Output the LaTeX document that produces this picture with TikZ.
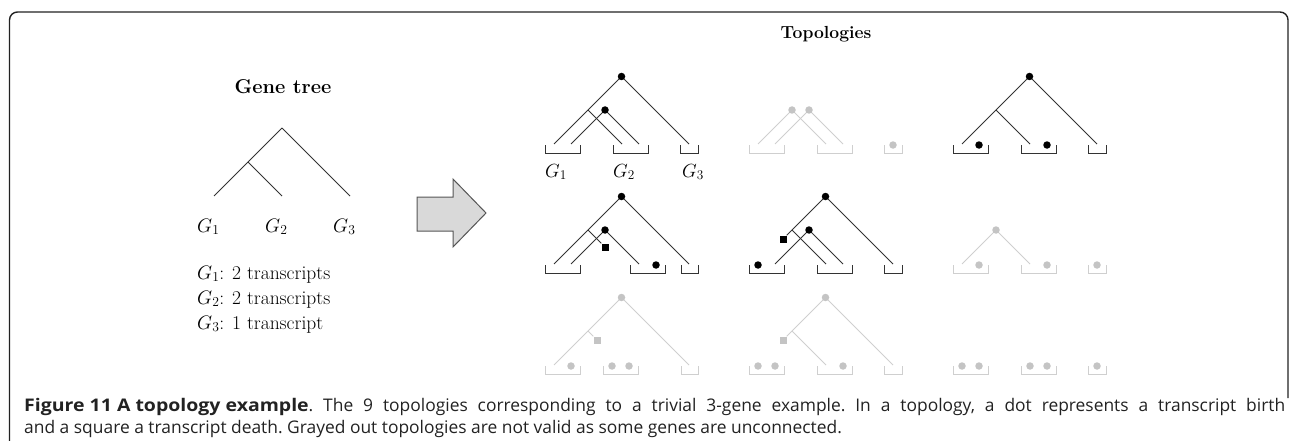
\RequirePackage{fix-cm}
\documentclass[tikz,border=0pt]{standalone}
\usepackage{fontspec}
\newfontfamily\capfont{Open Sans}
\definecolor{lc}{HTML}{333333}
\definecolor{gc}{HTML}{CFCFCF}
\definecolor{gd}{HTML}{C4C4C4}
\definecolor{framec}{HTML}{222222}
\definecolor{arrfill}{HTML}{D9D9D9}
\definecolor{arrdraw}{HTML}{555555}
\newcommand\bk[2]{\draw[brk] (#1,-8) -- (#1,0) -- (#2,0) -- (#2,-8);}
\newcommand\blackset{\colorlet{tcol}{lc}\colorlet{bcol}{lc}\colorlet{dcol}{black}}
\newcommand\grayset{\colorlet{tcol}{gc}\colorlet{bcol}{gc}\colorlet{dcol}{gd}}
\begin{document}
\begin{tikzpicture}[x=1pt,y=-1pt,
  edge/.style={draw=tcol, line width=0.9pt},
  brk/.style={draw=bcol, line width=0.9pt},
  dotn/.style={circle, fill=dcol, inner sep=0pt, minimum size=7.5pt},
  sqn/.style={rectangle, fill=dcol, inner sep=0pt, minimum size=7pt},
  gl/.style={anchor=base west, inner sep=0pt, font=\fontsize{19}{23}\selectfont},
  tx/.style={anchor=base west, inner sep=0pt, font=\fontsize{19.5}{25}\selectfont},
  capt/.style={anchor=base west, inner sep=0pt, text=framec, font=\capfont\fontsize{17.4}{22}\selectfont\frenchspacing}]
\useasboundingbox (0,0) rectangle (1292,441);
% frame
\draw[framec, line width=1.4pt, rounded corners=8pt] (9.5,441) -- (9.5,12) -- (1288,12) -- (1288,398);
% gene tree
\node[anchor=base, inner sep=0pt, font=\bfseries\fontsize{20}{24}\selectfont] (gtitle) at (283,94) {Gene tree};
\coordinate (gr) at (282,128);
\coordinate (gi) at (248,162);
\coordinate (g1) at (214,196);
\coordinate (g2) at (282,196);
\coordinate (g3) at (350,196);
\draw[draw=lc, line width=0.9pt] (gr) -- (g1);
\draw[draw=lc, line width=0.9pt] (gi) -- (g2);
\draw[draw=lc, line width=0.9pt] (gr) -- (g3);
\node[tx] (gl1) at (197,232) {$G_1$};
\node[tx] (gl2) at (265,232) {$G_2$};
\node[tx] (gl3) at (333,232) {$G_3$};
\node[tx] (tl1) at (197,279) {$G_1$: 2 transcripts};
\node[tx] (tl2) at (197,304) {$G_2$: 2 transcripts};
\node[tx] (tl3) at (197,329) {$G_3$: 1 transcript};
% arrow
\draw[fill=arrfill, draw=arrdraw, line width=1pt, line join=miter] (417,197) -- (453,197) -- (453,179) -- (486,213) -- (453,247) -- (453,231) -- (417,231) -- cycle;
% topologies title
\node[anchor=base, inner sep=0pt, font=\bfseries\fontsize{17.5}{20}\selectfont] (ttitle) at (826,39) {Topologies};
% ---------- T11
\begin{scope}[shift={(545,153)}]
\blackset
\bk{0}{35}\bk{68}{103}\bk{135}{153}
\coordinate (t11a1) at (9,-9);\coordinate (t11a2) at (26,-9);
\coordinate (t11b1) at (77,-9);\coordinate (t11b2) at (94,-9);
\coordinate (t11c) at (144,-9);
\coordinate (t11I) at (43,-43);
\draw[edge] (76.5,-76.5) coordinate (t11R0) -- (t11a1);
\draw[edge] (t11R0) -- (t11c);
\draw[edge] (t11I) -- (t11b1);
\draw[edge] (60,-43) coordinate (t11J0) -- (t11a2);
\draw[edge] (t11J0) -- (t11b2);
\node[dotn] (t11R) at (t11R0) {};
\node[dotn] (t11J) at (t11J0) {};
\end{scope}
\node[gl] (lg1) at (545,177) {$G_1$};
\node[gl] (lg2) at (613,177) {$G_2$};
\node[gl] (lg3) at (682,177) {$G_3$};
% ---------- T12
\begin{scope}[shift={(749,153)}]
\grayset
\bk{0}{35}\bk{68}{103}\bk{135}{153}
\coordinate (t12a1) at (9,-9);\coordinate (t12a2) at (26,-9);
\coordinate (t12b1) at (77,-9);\coordinate (t12b2) at (94,-9);
\coordinate (t12I0) at (43,-43);\coordinate (t12J0) at (60,-43);
\draw[edge] (t12I0) -- (t12a1);
\draw[edge] (t12I0) -- (t12b1);
\draw[edge] (t12J0) -- (t12a2);
\draw[edge] (t12J0) -- (t12b2);
\node[dotn] (t12I) at (t12I0) {};
\node[dotn] (t12J) at (t12J0) {};
\node[dotn] (t12lc) at (144,-8) {};
\end{scope}
% ---------- T13
\begin{scope}[shift={(953,153)}]
\blackset
\bk{0}{35}\bk{68}{103}\bk{135}{153}
\coordinate (t13a1) at (9,-9);\coordinate (t13b1) at (77,-9);\coordinate (t13c) at (144,-9);
\coordinate (t13I) at (43,-43);\coordinate (t13R0) at (76.5,-76.5);
\draw[edge] (t13R0) -- (t13a1);
\draw[edge] (t13R0) -- (t13c);
\draw[edge] (t13I) -- (t13b1);
\node[dotn] (t13R) at (t13R0) {};
\node[dotn] (t13la) at (26,-8) {};
\node[dotn] (t13lb) at (94,-8) {};
\end{scope}
% ---------- T21
\begin{scope}[shift={(545,273)}]
\blackset
\bk{0}{35}\bk{85}{120}\bk{136}{153}
\coordinate (t21a1) at (9,-9);\coordinate (t21a2) at (26,-9);
\coordinate (t21b1) at (94,-9);\coordinate (t21c) at (144,-9);
\coordinate (t21I) at (43,-43);\coordinate (t21R0) at (76.5,-76.5);\coordinate (t21J0) at (60,-43);
\node[sqn] (t21S) at (60,-26) {};
\draw[edge] (t21R0) -- (t21a1);
\draw[edge] (t21R0) -- (t21c);
\draw[edge] (t21I) -- (t21S);
\draw[edge] (t21J0) -- (t21a2);
\draw[edge] (t21J0) -- (t21b1);
\node[dotn] (t21R) at (t21R0) {};
\node[dotn] (t21J) at (t21J0) {};
\node[dotn] (t21lb) at (111,-8) {};
\end{scope}
% ---------- T22
\begin{scope}[shift={(749,273)}]
\blackset
\bk{0}{35}\bk{68}{103}\bk{135}{153}
\coordinate (t22a2) at (26,-9);\coordinate (t22b1) at (77,-9);
\coordinate (t22b2) at (94,-9);\coordinate (t22c) at (144,-9);
\coordinate (t22I) at (43,-43);\coordinate (t22R0) at (76.5,-76.5);\coordinate (t22J0) at (60,-43);
\node[sqn] (t22S) at (34,-34) {};
\draw[edge] (t22R0) -- (t22S);
\draw[edge] (t22R0) -- (t22c);
\draw[edge] (t22I) -- (t22b1);
\draw[edge] (t22J0) -- (t22a2);
\draw[edge] (t22J0) -- (t22b2);
\node[dotn] (t22R) at (t22R0) {};
\node[dotn] (t22J) at (t22J0) {};
\node[dotn] (t22la) at (9,-8) {};
\end{scope}
% ---------- T23
\begin{scope}[shift={(953,273)}]
\grayset
\bk{0}{35}\bk{68}{103}\bk{135}{153}
\coordinate (t23a1) at (9,-9);\coordinate (t23b1) at (77,-9);
\coordinate (t23I0) at (43,-43);
\draw[edge] (t23I0) -- (t23a1);
\draw[edge] (t23I0) -- (t23b1);
\node[dotn] (t23I) at (t23I0) {};
\node[dotn] (t23la) at (26,-8) {};
\node[dotn] (t23lb) at (94,-8) {};
\node[dotn] (t23lc) at (144,-8) {};
\end{scope}
% ---------- T31
\begin{scope}[shift={(545,374)}]
\grayset
\bk{0}{35}\bk{58}{93}\bk{136}{153}
\coordinate (t31a1) at (9,-9);\coordinate (t31c) at (144,-9);
\coordinate (t31I) at (43,-43);\coordinate (t31R0) at (76.5,-76.5);
\node[sqn] (t31S) at (52,-34) {};
\draw[edge] (t31R0) -- (t31a1);
\draw[edge] (t31R0) -- (t31c);
\draw[edge] (t31I) -- (t31S);
\node[dotn] (t31R) at (t31R0) {};
\node[dotn] (t31la) at (26,-8) {};
\node[dotn] (t31lb) at (67,-8) {};
\node[dotn] (t31lc) at (84,-8) {};
\end{scope}
% ---------- T32
\begin{scope}[shift={(749,374)}]
\grayset
\bk{0}{35}\bk{68}{103}\bk{135}{153}
\coordinate (t32b1) at (77,-9);\coordinate (t32c) at (144,-9);
\coordinate (t32I) at (43,-43);\coordinate (t32R0) at (76.5,-76.5);
\node[sqn] (t32S) at (34,-34) {};
\draw[edge] (t32R0) -- (t32S);
\draw[edge] (t32R0) -- (t32c);
\draw[edge] (t32I) -- (t32b1);
\node[dotn] (t32R) at (t32R0) {};
\node[dotn] (t32la) at (9,-8) {};
\node[dotn] (t32lb) at (26,-8) {};
\node[dotn] (t32lc) at (94,-8) {};
\end{scope}
% ---------- T33
\begin{scope}[shift={(953,374)}]
\grayset
\bk{0}{35}\bk{68}{103}\bk{135}{153}
\node[dotn] (t33la) at (9,-8) {};
\node[dotn] (t33lb) at (26,-8) {};
\node[dotn] (t33lc) at (77,-8) {};
\node[dotn] (t33ld) at (94,-8) {};
\node[dotn] (t33le) at (144,-8) {};
\end{scope}
% caption
\node[capt] (cap1) at (24,411) {\makebox[1261pt][s]{\scalebox{1.12}[1]{\textbf{Figure 11 A topology example}}. The 9 topologies corresponding to a trivial 3-gene example. In a topology, a dot represents a transcript birth}};
\node[capt] (cap2) at (24,433) {and a square a transcript death. Grayed out topologies are not valid as some genes are unconnected.};
\end{tikzpicture}
\end{document}
